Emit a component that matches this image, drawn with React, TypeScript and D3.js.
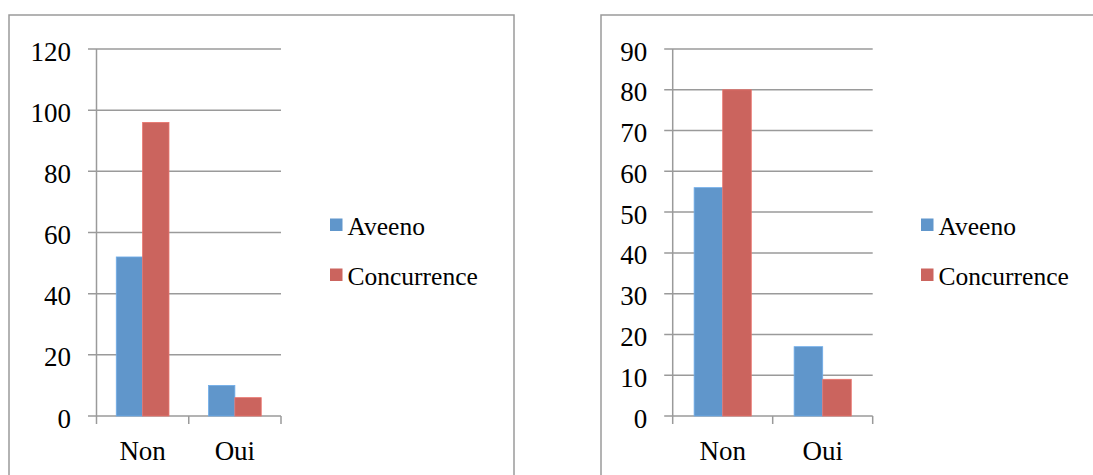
import React from "react";
import * as d3 from "d3";

const categories = ["Non", "Oui"];
const seriesNames = ["Aveeno", "Concurrence"];
const seriesColors = ["#6096CB", "#CB645E"];
const leftAveeno = [52, 10];
const leftConcurrence = [96, 6];
const rightAveeno = [56, 17];
const rightConcurrence = [80, 9];
const leftTicks = [0, 20, 40, 60, 80, 100, 120];
const rightTicks = [0, 10, 20, 30, 40, 50, 60, 70, 80, 90];

const FONT = "'Liberation Serif', 'DejaVu Serif', serif";
const GRID = "#9a9a9a";
const AXIS_FS = 27;
const LEG_FS = 25.5;

type PanelProps = {
  frameX: number;
  frameW: number;
  x0: number;
  x1: number;
  yMax: number;
  ticks: number[];
  values: number[][];
  legendX: number;
};

function Panel({ frameX, frameW, x0, x1, yMax, ticks, values, legendX }: PanelProps) {
  const yTop = 49;
  const yBot = 416;
  const y = d3.scaleLinear().domain([0, yMax]).range([yBot, yTop]);
  const x = d3.scaleBand().domain(categories).range([x0, x1]).padding(0);
  const xs = d3
    .scaleBand()
    .domain(seriesNames)
    .range([0, x.bandwidth()])
    .paddingInner(0)
    .paddingOuter(0.75);
  const tickStart = x0 - 8.5;
  const boundaries = [x0, ...categories.map((c) => (x(c) as number) + x.bandwidth())];
  return (
    <g>
      <path
        d={`M${frameX},480 V15 H${frameX + frameW} V480`}
        fill="none"
        stroke={GRID}
        strokeWidth={1.5}
      />
      {ticks.map((t) => (
        <g key={t}>
          <line x1={tickStart} x2={x1} y1={y(t)} y2={y(t)} stroke={GRID} strokeWidth={1.5} />
          <text
            x={tickStart - 17}
            y={y(t) + 11.5}
            textAnchor="end"
            fontFamily={FONT}
            fontSize={AXIS_FS}
            fill="#000"
          >
            {t}
          </text>
        </g>
      ))}
      <line x1={x0} x2={x0} y1={yTop} y2={yBot} stroke={GRID} strokeWidth={1.5} />
      {boundaries.map((b, i) => (
        <line key={i} x1={b} x2={b} y1={yBot} y2={yBot + 8} stroke={GRID} strokeWidth={1.5} />
      ))}
      {categories.map((c, ci) => (
        <g key={c}>
          {seriesNames.map((s, si) => {
            const v = values[si][ci];
            const bx = (x(c) as number) + (xs(s) as number);
            return (
              <rect
                key={s}
                x={bx}
                y={y(v)}
                width={xs.bandwidth()}
                height={yBot - y(v)}
                fill={seriesColors[si]}
                stroke={d3.color(seriesColors[si])!.brighter(0.4).formatHex()}
                strokeWidth={0.8}
              />
            );
          })}
          <text
            x={(x(c) as number) + x.bandwidth() / 2}
            y={460}
            textAnchor="middle"
            fontFamily={FONT}
            fontSize={AXIS_FS}
            fill="#000"
          >
            {c}
          </text>
        </g>
      ))}
      {seriesNames.map((s, si) => (
        <g key={s}>
          <rect x={legendX} y={218.5 + si * 50} width={12.5} height={12.5} fill={seriesColors[si]} />
          <text
            x={legendX + 17.5}
            y={234.5 + si * 50}
            fontFamily={FONT}
            fontSize={LEG_FS}
            fill="#000"
          >
            {s}
          </text>
        </g>
      ))}
    </g>
  );
}

export default function App() {
  return (
    <svg
      width={1093}
      height={475}
      style={{ position: "absolute", left: 0, top: 0, display: "block", background: "#fff" }}
    >
      <rect width={1093} height={475} fill="#fff" />
      <Panel
        frameX={9}
        frameW={505}
        x0={96.5}
        x1={281}
        yMax={120}
        ticks={leftTicks}
        values={[leftAveeno, leftConcurrence]}
        legendX={330}
      />
      <Panel
        frameX={601}
        frameW={520}
        x0={672.7}
        x1={872.7}
        yMax={90}
        ticks={rightTicks}
        values={[rightAveeno, rightConcurrence]}
        legendX={921}
      />
    </svg>
  );
}
